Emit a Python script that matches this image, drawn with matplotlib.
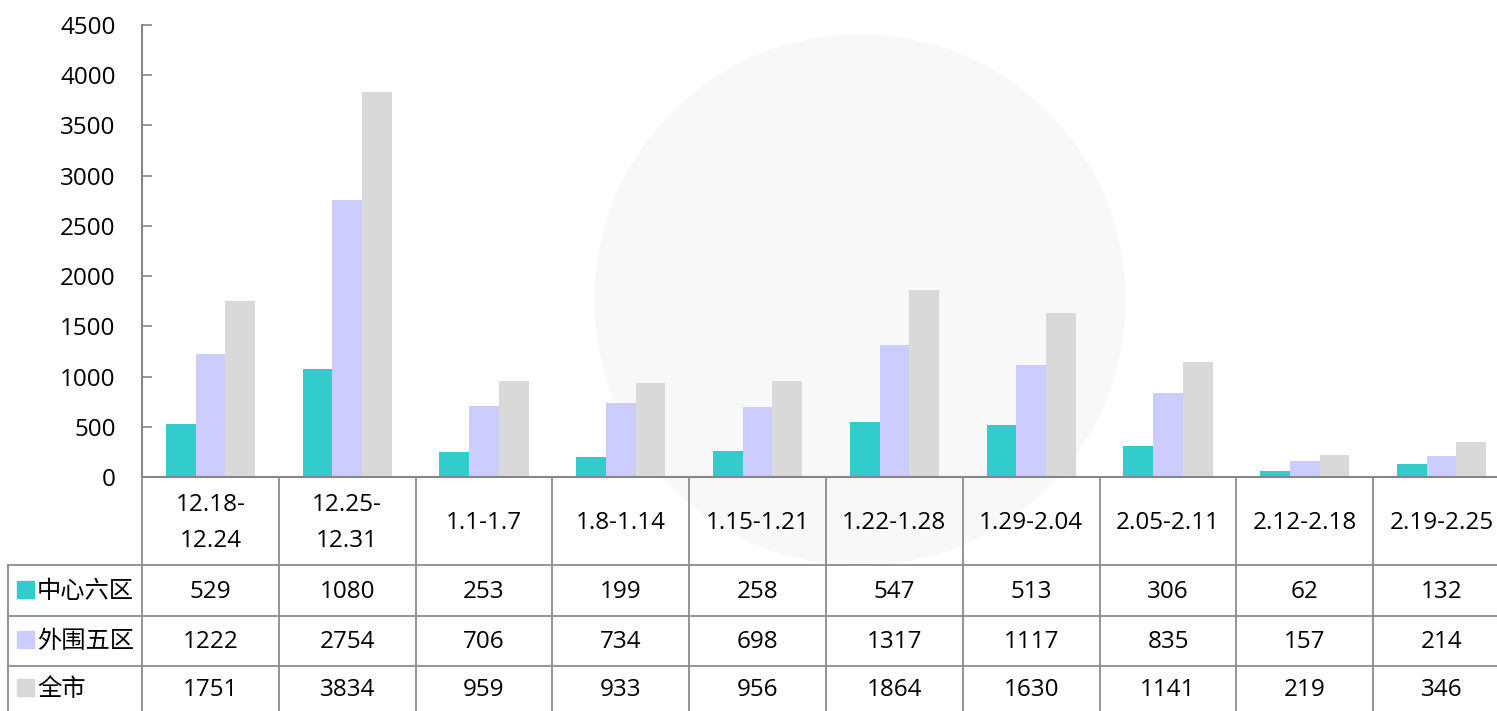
import numpy as np
import matplotlib
matplotlib.use("Agg")
import matplotlib.pyplot as plt
from matplotlib.patches import Ellipse, Rectangle

plt.rcParams['font.family'] = ['Open Sans', 'Noto Sans CJK SC', 'DejaVu Sans']

# data
periods = ['12.18-\n12.24', '12.25-\n12.31', '1.1-1.7', '1.8-1.14', '1.15-1.21',
           '1.22-1.28', '1.29-2.04', '2.05-2.11', '2.12-2.18', '2.19-2.25']
series_names = ['中心六区', '外围五区', '全市']
center6 = [529, 1080, 253, 199, 258, 547, 513, 306, 62, 132]
outer5 = [1222, 2754, 706, 734, 698, 1317, 1117, 835, 157, 214]
city = [1751, 3834, 959, 933, 956, 1864, 1630, 1141, 219, 346]
colors = ['#33CCCC', '#CCCCFF', '#D9D9D9']
yticks = [0, 500, 1000, 1500, 2000, 2500, 3000, 3500, 4000, 4500]

FS = 17.5
W, H = 1497, 711
fig = plt.figure(figsize=(W / 100, H / 100), dpi=100)

left_px, right_px = 142, 1510
top_px, zero_px = 25, 477
ax = fig.add_axes([left_px / W, 1 - zero_px / H, (right_px - left_px) / W, (zero_px - top_px) / H])
ax.patch.set_alpha(0)

# faint watermark behind the bars
wm = Ellipse((860 / W, 1 - 300 / H), 530 / W, 530 / H, transform=fig.transFigure,
             color='#f8f8f8', zorder=0.5, clip_on=False)
ax.add_patch(wm)

n = len(periods)
x = np.arange(n)
bw = 0.217
series = [center6, outer5, city]
for i, (vals, c) in enumerate(zip(series, colors)):
    ax.bar(x + (i - 1) * bw, vals, width=bw, color=c, zorder=2)

ax.set_xlim(-0.5, n - 0.5)
ax.set_ylim(0, 4500)
ax.set_yticks(yticks)
ax.set_xticks([])
ax.tick_params(axis='y', direction='in', length=7, width=1.2, color='#868686',
               pad=19, labelsize=FS)
for s in ['top', 'right']:
    ax.spines[s].set_visible(False)
for s in ['left', 'bottom']:
    ax.spines[s].set_color('#868686')
    ax.spines[s].set_linewidth(1.5)

# data table below the axes
tbl_bottom_px = 716
tax = fig.add_axes([left_px / W, 1 - tbl_bottom_px / H, (right_px - left_px) / W,
                    (tbl_bottom_px - zero_px) / H])
tax.set_xlim(-0.5, n - 0.5)
tax.set_ylim(tbl_bottom_px, zero_px)
tax.axis('off')
tax.patch.set_alpha(0)

px_per_unit = (right_px - left_px) / n
label_left = -0.5 - (left_px - 8) / px_per_unit
row_lines = [565, 616, 666]
grid_kw = dict(color='#8c8c8c', lw=1.3, clip_on=False)

for r in row_lines:
    tax.plot([label_left, n - 0.5], [r, r], **grid_kw)
for k in range(n + 1):
    tax.plot([k - 0.5, k - 0.5], [zero_px, tbl_bottom_px], **grid_kw)
tax.plot([label_left, label_left], [565, tbl_bottom_px], **grid_kw)

for k, p in enumerate(periods):
    tax.text(k, (zero_px + 565) / 2 + 2, p, ha='center', va='center', fontsize=FS,
             linespacing=1.65, clip_on=False)

row_centers = [(565 + 616) / 2 + 1, (616 + 666) / 2 + 1, (666 + 716) / 2 - 1]
for name, vals, c, yc in zip(series_names, series, colors, row_centers):
    sq = 17 / px_per_unit
    tax.add_patch(Rectangle((label_left + 9 / px_per_unit, yc - 11), sq, 17,
                            color=c, clip_on=False))
    tax.text(label_left + 29 / px_per_unit, yc, name, ha='left', va='center',
             fontsize=FS, clip_on=False)
    for k, v in enumerate(vals):
        tax.text(k, yc, str(v), ha='center', va='center', fontsize=FS, clip_on=False)

fig.savefig('out.png', dpi=100)
